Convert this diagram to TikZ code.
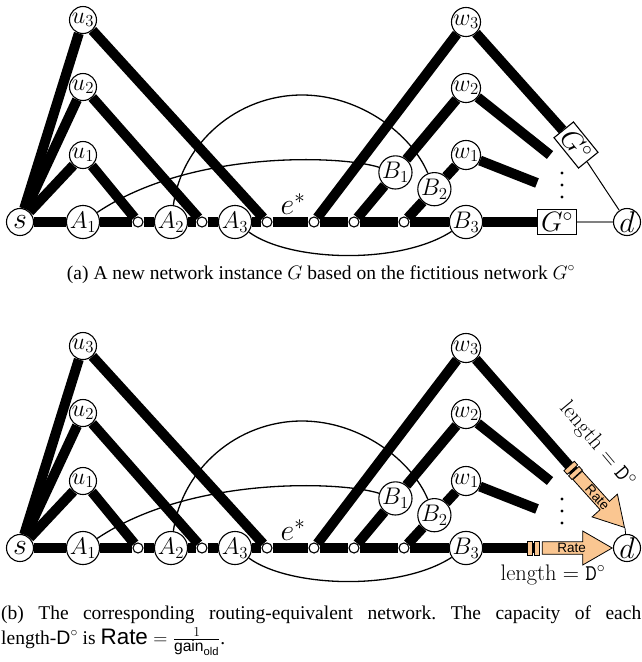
\RequirePackage{fix-cm}
\documentclass[tikz,border=0pt]{standalone}
\usepackage{amsmath}
\usepackage[no-math]{fontspec}
\setmainfont{Liberation Serif}
\setsansfont{Liberation Sans}
\newfontfamily\capsans{Liberation Sans}[Scale=1.15]
\usetikzlibrary{calc,shapes.arrows}
\pgfdeclarelayer{bg}
\pgfsetlayers{bg,main}
\definecolor{peach}{RGB}{250,198,145}

\tikzset{
  vnode/.style={circle, draw, line width=1.1pt, fill=white, inner sep=0pt,
    minimum size=27pt, font=\fontsize{24}{24}\selectfont},
  bignode/.style={vnode, font=\fontsize{30}{30}\selectfont},
  dotnode/.style={circle, draw, line width=1.1pt, fill=white, inner sep=0pt,
    minimum size=10pt},
  heavy/.style={line width=10pt},
  light/.style={line width=1.3pt},
  gbox/.style={draw, line width=1.1pt, fill=white, minimum width=39pt,
    minimum height=25pt, inner sep=0pt, font=\fontsize{28}{28}\selectfont},
  capbar/.style={draw, line width=0.8pt, fill=peach, minimum width=5pt,
    minimum height=14pt, inner sep=0pt},
  ratearrow/.style={single arrow, draw, line width=0.8pt, fill=peach,
    single arrow tip angle=60, single arrow head extend=10.5pt,
    minimum width=34pt, minimum height=70pt, inner sep=1pt,
    font=\sffamily\fontsize{13.5}{13.5}\selectfont},
  caption/.style={inner sep=0pt, font=\fontsize{19.5}{23}\selectfont},
  lenlabel/.style={inner sep=0pt, font=\fontsize{22.5}{22.5}\selectfont},
}

% the shared part of both networks: #1 = name prefix, #2 = vertical offset
\newcommand\netcore[2]{%
\begin{scope}[shift={(0,#2)}]
  \node[bignode] (#1s)  at (20,222)  {$s$};
  \node[vnode]   (#1A1) at (83,222)  {$A_1$};
  \node[dotnode] (#1c1) at (138,222) {};
  \node[vnode]   (#1A2) at (171,222) {$A_2$};
  \node[dotnode] (#1c2) at (202,222) {};
  \node[vnode]   (#1A3) at (235,222) {$A_3$};
  \node[dotnode] (#1c3) at (267,222) {};
  \node[dotnode] (#1c4) at (314,222) {};
  \node[dotnode] (#1c5) at (354,222) {};
  \node[dotnode] (#1c6) at (404,222) {};
  \node[vnode]   (#1B3) at (466,222) {$B_3$};
  \node[bignode] (#1d)  at (627,222) {$d$};
  \node[vnode]   (#1u1) at (83,155)  {$u_1$};
  \node[vnode]   (#1u2) at (83,87)   {$u_2$};
  \node[vnode]   (#1u3) at (83,20)   {$u_3$};
  \node[vnode]   (#1w1) at (466,155) {$w_1$};
  \node[vnode]   (#1w2) at (466,88)  {$w_2$};
  \node[vnode]   (#1w3) at (466,22)  {$w_3$};
  \node[vnode]   (#1B1) at ($(#1c5)!0.37!(#1w2)$) {$B_1$};
  \node[vnode]   (#1B2) at ($(#1c6)!0.49!(#1w1)$) {$B_2$};
  \node[font=\fontsize{30}{30}\selectfont] (#1e) at (293,204) {$e^*$};
  \coordinate (#1x2) at (550,155);
  \coordinate (#1x1) at (537,183);
  \foreach \yy in {173,185,197} \fill (562,\yy) circle[radius=1.7pt];
  \begin{pgfonlayer}{bg}
    \draw[heavy] (#1s) -- (#1u1);
    \draw[heavy] (#1s) -- (#1u2);
    \draw[heavy] (#1s) -- (#1u3);
    \draw[heavy] (#1u1) -- (#1c1);
    \draw[heavy] (#1u2) -- (#1c2);
    \draw[heavy] (#1u3) -- (#1c3);
    \draw[heavy] (#1s) -- (#1A1) -- (#1c1) -- (#1A2) -- (#1c2) -- (#1A3)
      -- (#1c3) -- (#1c4) -- (#1c5) -- (#1c6) -- (#1B3);
    \draw[heavy] (#1c4) -- (#1w3);
    \draw[heavy] (#1c5) -- (#1B1) -- (#1w2);
    \draw[heavy] (#1c6) -- (#1B2) -- (#1w1);
    \draw[heavy] (#1w2) -- (#1x2);
    \draw[heavy] (#1w1) -- (#1x1);
    \draw[light] (#1A1) .. controls (190,150) and (340,155) .. (#1B1);
    \draw[light] (#1A2) .. controls (182,143) and (237,95) .. (302,95)
      .. controls (361,95) and (412,135) .. (#1B2);
    \draw[light] (#1A3) .. controls (290,262) and (400,265) .. (#1B3);
  \end{pgfonlayer}
\end{scope}}

\begin{document}
\begin{tikzpicture}[x=1pt,y=-1pt]
\useasboundingbox (0,0) rectangle (642,662);

% ---- (a) network built around the fictitious network
\netcore{a}{0}
\node[gbox] (aGh) at (557,222) {$G^\circ$};
\node[gbox, rotate=-51] (aGr) at (576,145) {$G^\circ$};
\begin{pgfonlayer}{bg}
  \draw[heavy] (aB3) -- (aGh);
  \draw[heavy] (aw3) -- (aGr);
\end{pgfonlayer}
\draw[light, gray] (aGh) -- (ad);
\draw[line width=1pt] (aGr) -- (ad);
\node[caption, anchor=base] (capa) at (321,279)
  {(a) A new network instance $G$ based on the fictitious network $G^\circ$};

% ---- (b) routing-equivalent network
\netcore{b}{326}
\node[capbar] (bh1) at (530,548) {};
\node[capbar] (bh2) at (537,548) {};
\node[ratearrow, anchor=tip] (bhr) at (bd.west) {Rate};
\node[capbar, rotate=-48] (bv1) at (570.8,467.8) {};
\node[capbar, rotate=-48] (bv2) at (575.5,473) {};
\node[ratearrow, rotate=-48, anchor=tip] (bvr) at (625,528) {Rate};
\begin{pgfonlayer}{bg}
  \draw[heavy] (bB3) -- (bh2.center);
  \draw[heavy] (bw3) -- (bv2.center);
\end{pgfonlayer}
\draw[line width=0.8pt] (bvr.tip) -- (bd);
\node[lenlabel] (blh) at (553,575) {$\mathrm{length}=\mathtt{D}^\circ$};
\node[lenlabel, rotate=-50] (blv) at (597,445) {$\mathrm{length}=\mathtt{D}^\circ$};

\node[caption, anchor=base west] (capb1) at (1,619)
  {\frenchspacing\makebox[640pt][s]{(b) The corresponding routing-equivalent network. The capacity of each}};
\node[caption, anchor=base west] (capb2) at (1,644)
  {length-\textsf{D}$^\circ$ is $\text{\capsans Rate}=\frac{1}{\text{\capsans gain}_{\text{\capsans old}}}$.};
\end{tikzpicture}
\end{document}
